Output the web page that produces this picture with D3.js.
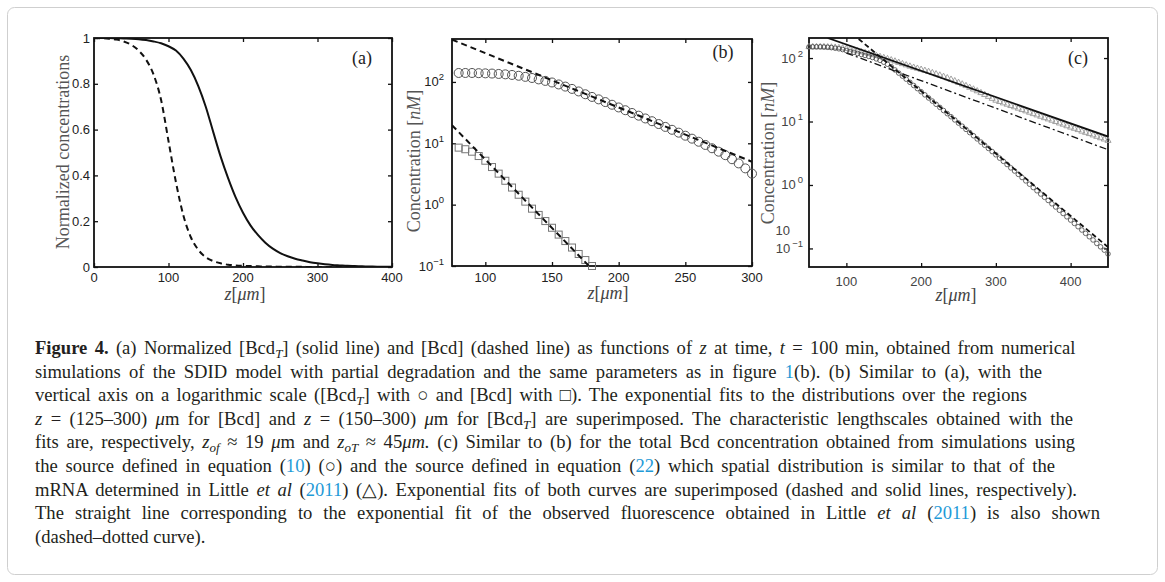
<!DOCTYPE html>
<html>
<head>
<meta charset="utf-8">
<script src="https://cdn.jsdelivr.net/npm/d3@7"></script>
<style>
  body { margin: 0; background: #fff; }
  svg { display: block; }
</style>
</head>
<body>
<svg width="1165" height="582"></svg>
<script>
// ---- panel (a): normalized profiles, z = 0..400
const zA = [0, 10, 20, 30, 40, 50, 60, 70, 80, 90, 100, 110, 120, 130, 140, 150, 160, 170, 180, 190, 200,
    210, 220, 230, 240, 250, 260, 270, 280, 290, 300, 310, 320, 330, 340, 350, 360, 370, 380, 390, 400];
const bcdTNorm = [1, 1, 1, 0.999, 0.998, 0.997, 0.995, 0.991, 0.985, 0.977, 0.964, 0.945, 0.91, 0.86, 0.79,
    0.70, 0.59, 0.482, 0.388, 0.305, 0.237, 0.182, 0.14, 0.106, 0.08, 0.061, 0.047, 0.036, 0.028, 0.021,
    0.016, 0.012, 0.009, 0.007, 0.005, 0.004, 0.003, 0.002, 0.0015, 0.001, 0.0007];
const bcdNorm = [1, 0.999, 0.997, 0.993, 0.985, 0.97, 0.945, 0.905, 0.84, 0.73, 0.55, 0.37, 0.225, 0.13,
    0.075, 0.043, 0.026, 0.016, 0.01, 0.007, 0.005, 0.004, 0.003, 0.002, 0.002, 0.001, 0.001, 0.001, 0.001,
    0, 0, 0, 0, 0, 0, 0, 0, 0, 0, 0, 0];
const xTicksA = [0, 100, 200, 300, 400];
const yTicksA = [0, 0.2, 0.4, 0.6, 0.8, 1];

// ---- panel (b): log scale, circles = [Bcd_T], squares = [Bcd]
const zB = [80, 85, 90, 95, 100, 105, 110, 115, 120, 125, 130, 135, 140, 145, 150, 155, 160, 165, 170, 175,
    180, 185, 190, 195, 200, 205, 210, 215, 220, 225, 230, 235, 240, 245, 250, 255, 260, 265, 270, 275,
    280, 285, 290, 295, 300];
const bcdTB = [140, 140, 140, 139, 138, 137, 135, 133, 130, 126, 121, 116, 110, 104, 98, 91, 84, 77, 70, 63,
    57, 52, 47, 42.5, 38.4, 34.6, 31.2, 28.2, 25.4, 22.9, 20.6, 18.5, 16.6, 14.9, 13.3, 11.9, 10.6, 9.4,
    8.3, 7.3, 6.4, 5.5, 4.7, 3.9, 3.2];
const zBsq = [80, 85, 90, 95, 100, 105, 110, 115, 120, 125, 130, 135, 140, 145, 150, 155, 160, 165, 170, 175, 180];
const bcdB = [8.5, 8.0, 7.3, 6.2, 5.2, 4.1, 3.2, 2.45, 1.9, 1.45, 1.12, 0.86, 0.68, 0.54, 0.42, 0.325,
    0.255, 0.2, 0.157, 0.125, 0.1];
const fitBcdTz = [75, 300], fitBcdTc = [490, 5.0];
const fitBcdz = [75, 180], fitBcdc = [19.7, 0.089];
const xTicksB = [100, 150, 200, 250, 300];
const logTicks = [0.1, 1, 10, 100];

// ---- panel (c): total Bcd, circles = source eq (10), triangles = source eq (22)
const zC = [50, 55, 60, 65, 70, 75, 80, 85, 90, 95, 100, 105, 110, 115, 120, 125, 130, 135, 140, 145, 150,
    155, 160, 165, 170, 175, 180, 185, 190, 195, 200, 205, 210, 215, 220, 225, 230, 235, 240, 245, 250,
    255, 260, 265, 270, 275, 280, 285, 290, 295, 300, 305, 310, 315, 320, 325, 330, 335, 340, 345, 350,
    355, 360, 365, 370, 375, 380, 385, 390, 395, 400, 405, 410, 415, 420, 425, 430, 435, 440, 445, 450];
const circC = [150, 150, 150, 150, 149, 148, 146, 143, 140, 136, 131, 127, 123, 118, 114, 110, 106, 102, 97,
    92, 86, 80, 73, 65, 58, 52, 46.5, 41.5, 37, 33, 29.5, 26.3, 23.5, 21, 18.7, 16.7, 14.9, 13.3, 11.9,
    10.6, 9.45, 8.43, 7.52, 6.7, 5.97, 5.32, 4.74, 4.23, 3.77, 3.36, 2.99, 2.65, 2.36, 2.1, 1.86, 1.66,
    1.47, 1.31, 1.16, 1.03, 0.91, 0.81, 0.72, 0.64, 0.57, 0.505, 0.45, 0.4, 0.355, 0.315, 0.28, 0.248,
    0.22, 0.195, 0.173, 0.153, 0.136, 0.12, 0.106, 0.094, 0.082];
const triC = [150, 150, 150, 150, 150, 149, 148, 147, 145, 143, 140, 137, 133, 129, 125, 121, 117, 113, 109,
    105, 101, 97, 93, 89, 85, 81, 77.5, 74, 71, 68.5, 66, 63.5, 61, 58.5, 56, 53.5, 51, 48.5, 46, 43.5,
    41, 38.7, 36.5, 34.3, 32.2, 30.2, 28.3, 26.5, 24.7, 23.0, 21.5, 20.5, 19.5, 18.6, 17.7, 16.9, 16.1,
    15.3, 14.6, 13.9, 13.2, 12.6, 12.0, 11.4, 10.9, 10.4, 9.9, 9.4, 9.0, 8.5, 8.1, 7.75, 7.4, 7.0, 6.7,
    6.4, 6.1, 5.8, 5.5, 5.25, 5.0];
const fitCircz = [100, 450], fitCircc = [290, 0.105];
const fitTriz = [75, 450], fitTric = [207, 5.8];
const fitObsz = [100, 450], fitObsc = [120, 3.6];
const xTicksC = [100, 200, 300, 400];

// ---- caption
const captionLines = [
    [["Figure 4.", "B"], ["  (a) Normalized [Bcd", ""], ["T", "SI"], ["] (solid line) and [Bcd] (dashed line) as functions of ", ""],
     ["z", "I"], [" at time, ", ""], ["t", "I"], [" = 100 min, obtained from numerical", ""]],
    [["simulations of the SDID model with partial degradation and the same parameters as in figure ", ""], ["1", "L"],
     ["(b). (b) Similar to (a), with the", ""]],
    [["vertical axis on a logarithmic scale ([Bcd", ""], ["T", "SI"], ["] with \u25CB and [Bcd] with \u25A1). The exponential fits to the distributions over the regions", ""]],
    [["z", "I"], [" = (125\u2013300) ", ""], ["\u03BC", "I"], ["m for [Bcd] and ", ""], ["z", "I"], [" = (150\u2013300) ", ""],
     ["\u03BC", "I"], ["m for [Bcd", ""], ["T", "SI"], ["] are superimposed. The characteristic lengthscales obtained with the", ""]],
    [["fits are, respectively, ", ""], ["z", "I"], ["of", "SI"], [" \u2248 19 ", ""], ["\u03BC", "I"], ["m and ", ""], ["z", "I"],
     ["oT", "SI"], [" \u2248 45", ""], ["\u03BCm.", "I"], [" (c) Similar to (b) for the total Bcd concentration obtained from simulations using", ""]],
    [["the source defined in equation (", ""], ["10", "L"], [") (\u25CB) and the source defined in equation (", ""], ["22", "L"],
     [") which spatial distribution is similar to that of the", ""]],
    [["mRNA determined in Little ", ""], ["et al", "I"], [" (", ""], ["2011", "L"],
     [") (\u25B3). Exponential fits of both curves are superimposed (dashed and solid lines, respectively).", ""]],
    [["The straight line corresponding to the exponential fit of the observed fluorescence obtained in Little ", ""],
     ["et al", "I"], [" (", ""], ["2011", "L"], [") is also shown", ""]],
    [["(dashed\u2013dotted curve).", ""]]
];
// right end of each caption line; null = leave the line at its natural width
const captionEnds = [1078, 1042, 1027, 1073, 1075, 1055, 1077, 1100, null];

const svg = d3.select("svg");
const tickFont = "'Liberation Sans', Arial, sans-serif";
const serifFont = "'Liberation Serif', 'Times New Roman', serif";

let xA = d3.scaleLinear().domain([0, 400]).range([94, 392]);
let yA = d3.scaleLinear().domain([0, 1]).range([267, 38]);
let xB = d3.scaleLinear().domain([75, 300]).range([452, 752]);
let yB = d3.scaleLog().domain([0.1, 501]).range([266, 39]);
let xC = d3.scaleLinear().domain([50, 450]).range([809, 1108]);
let yC = d3.scaleLog().domain([0.051, 207]).range([267, 38]);

const drawFrame = (id, x, y, xTicks, yTicks) => {
    const [x0, x1] = x.range();
    const [y0, y1] = y.range();
    const g = svg.append("g");
    // inward ticks on all four sides, matlab style
    g.append("g").attr("transform", `translate(0,${y0})`)
        .call(d3.axisBottom(x).tickValues(xTicks).tickSizeInner(-4).tickSizeOuter(0).tickFormat(""));
    g.append("g").attr("transform", `translate(0,${y1})`)
        .call(d3.axisTop(x).tickValues(xTicks).tickSizeInner(-4).tickSizeOuter(0).tickFormat(""));
    g.append("g").attr("transform", `translate(${x0},0)`)
        .call(d3.axisLeft(y).tickValues(yTicks).tickSizeInner(-4).tickSizeOuter(0).tickFormat(""));
    g.append("g").attr("transform", `translate(${x1},0)`)
        .call(d3.axisRight(y).tickValues(yTicks).tickSizeInner(-4).tickSizeOuter(0).tickFormat(""));
    g.selectAll(".domain").remove();
    g.selectAll(".tick line").attr("stroke", "#111").attr("stroke-width", 1.3);
    g.append("rect")
        .attr("x", x0).attr("y", y1).attr("width", x1 - x0).attr("height", y0 - y1)
        .attr("fill", "none").attr("stroke", "#111").attr("stroke-width", 1.8);

    svg.append("clipPath").attr("id", id)
        .append("rect").attr("x", x0).attr("y", y1).attr("width", x1 - x0).attr("height", y0 - y1);
};

const drawXLabels = (x, y, ticks, dy, color) => {
    const y0 = y.range()[0];
    svg.append("g").selectAll("text").data(ticks).enter().append("text")
        .attr("x", d => x(d)).attr("y", y0 + dy)
        .attr("text-anchor", "middle")
        .attr("font-family", tickFont).attr("font-size", 13).attr("fill", color)
        .text(d => d);
};

const drawLogLabels = (x, y, gap, color, supDx) => {
    const x0 = x.range()[0];
    const t = svg.append("g").selectAll("text").data(logTicks).enter().append("text")
        .attr("x", x0 - gap).attr("y", d => y(d) + 4.5)
        .attr("text-anchor", "end")
        .attr("font-family", tickFont).attr("font-size", 13).attr("fill", color);
    t.append("tspan").text("10");
    t.append("tspan").attr("dx", supDx).attr("dy", -6).attr("font-size", 9.5)
        .text(d => Math.round(Math.log10(d)) < 0 ? "\u2212" + Math.abs(Math.round(Math.log10(d))) : Math.round(Math.log10(d)));
};

const drawTitles = (yLabel, yx, yy, xx, xy, tag, tx, ty) => {
    svg.append("text")
        .attr("transform", `translate(${yx},${yy}) rotate(-90)`)
        .attr("text-anchor", "middle").attr("dy", "0.35em")
        .attr("font-family", serifFont).attr("font-size", 18).attr("fill", "#555")
        .each(function () {
            const t = d3.select(this);
            yLabel.forEach(([s, it]) => t.append("tspan").attr("font-style", it ? "italic" : "normal").text(s));
        });
    const xt = svg.append("text")
        .attr("x", xx).attr("y", xy).attr("text-anchor", "middle").attr("dy", "0.35em")
        .attr("font-family", serifFont).attr("font-size", 18).attr("fill", "#444");
    xt.append("tspan").attr("font-style", "italic").text("z");
    xt.append("tspan").text("[");
    xt.append("tspan").attr("font-style", "italic").text("\u03BCm");
    xt.append("tspan").text("]");
    svg.append("text")
        .attr("x", tx).attr("y", ty).attr("text-anchor", "middle").attr("dy", "0.35em")
        .attr("font-family", serifFont).attr("font-size", 18).attr("fill", "#222")
        .text(tag);
};

const drawLine = (clip, x, y, zs, vs, width, dash, curve) => {
    const pts = zs.map((z, i) => [z, vs[i]]);
    svg.append("path")
        .datum(pts)
        .attr("clip-path", `url(#${clip})`)
        .attr("fill", "none").attr("stroke", "#111").attr("stroke-width", width)
        .attr("stroke-dasharray", dash)
        .attr("d", d3.line().x(d => x(d[0])).y(d => y(d[1])).curve(curve || d3.curveLinear));
};

const drawPanelA = () => {
    drawFrame("clipA", xA, yA, xTicksA, yTicksA);
    drawLine("clipA", xA, yA, zA, bcdNorm, 2, "6,4", d3.curveMonotoneX);
    drawLine("clipA", xA, yA, zA, bcdTNorm, 2, null, d3.curveMonotoneX);
    drawXLabels(xA, yA, xTicksA, 15, "#222");
    svg.append("g").selectAll("text").data(yTicksA).enter().append("text")
        .attr("x", 90).attr("y", d => yA(d) + 4.5)
        .attr("text-anchor", "end")
        .attr("font-family", tickFont).attr("font-size", 13).attr("fill", "#222")
        .text(d => d);
    drawTitles([["Normalized concentrations", false]], 63, 152, 245, 294, "(a)", 362, 58);
};

const drawPanelB = () => {
    drawFrame("clipB", xB, yB, xTicksB, logTicks);
    svg.append("g").selectAll("circle").data(zB).enter().append("circle")
        .attr("cx", d => xB(d)).attr("cy", (d, i) => yB(bcdTB[i])).attr("r", 4.5)
        .attr("fill", "none").attr("stroke", "#555").attr("stroke-width", 1);
    svg.append("g").selectAll("rect").data(zBsq).enter().append("rect")
        .attr("x", d => xB(d) - 3.5).attr("y", (d, i) => yB(bcdB[i]) - 3.5)
        .attr("width", 7).attr("height", 7)
        .attr("fill", "none").attr("stroke", "#777").attr("stroke-width", 1);
    drawLine("clipB", xB, yB, fitBcdTz, fitBcdTc, 2, "6,4");
    drawLine("clipB", xB, yB, fitBcdz, fitBcdc, 2, "6,4");
    drawXLabels(xB, yB, xTicksB, 16, "#222");
    drawLogLabels(xB, yB, 8, "#222", 0);
    drawTitles([["Concentration ", false], ["[", false], ["nM", true], ["]", false]], 414, 161, 608, 293, "(b)", 723, 52);
};

const drawPanelC = () => {
    drawFrame("clipC", xC, yC, xTicksC, logTicks);
    const tri = d3.symbol().type(d3.symbolTriangle).size(16);
    svg.append("g").selectAll("path").data(zC).enter().append("path")
        .attr("transform", (d, i) => `translate(${xC(d)},${yC(triC[i])})`)
        .attr("d", tri)
        .attr("fill", "none").attr("stroke", "#999").attr("stroke-width", 0.9);
    svg.append("g").selectAll("circle").data(zC).enter().append("circle")
        .attr("cx", d => xC(d)).attr("cy", (d, i) => yC(circC[i])).attr("r", 2.3)
        .attr("fill", "none").attr("stroke", "#444").attr("stroke-width", 0.8);
    drawLine("clipC", xC, yC, fitTriz, fitTric, 1.8, null);
    drawLine("clipC", xC, yC, fitCircz, fitCircc, 1.8, "5,3");
    drawLine("clipC", xC, yC, fitObsz, fitObsc, 1.3, "7,3,2,3");
    drawXLabels(xC, yC, xTicksC, 19, "#444");
    drawLogLabels(xC, yC, 6, "#444", 2);
    // stray label left over in the original figure
    svg.append("text").attr("x", 790).attr("y", 235).attr("text-anchor", "end")
        .attr("font-family", tickFont).attr("font-size", 13).attr("fill", "#444").text("10");
    drawTitles([["Concentration ", false], ["[", false], ["nM", true], ["]", false]], 768, 153, 956, 295, "(c)", 1078, 58);
};

const drawCaption = () => {
    captionLines.forEach((segs, i) => {
        const t = svg.append("text")
            .attr("x", 35).attr("y", 354 + i * 23.6)
            .attr("font-family", serifFont).attr("font-size", 18.6).attr("fill", "#231f20");
        let shifted = false;
        segs.forEach(([s, st]) => {
            const ts = t.append("tspan").text(s);
            if (st.includes("B")) ts.attr("font-weight", "bold");
            if (st.includes("I")) ts.attr("font-style", "italic");
            if (st.includes("L")) ts.attr("fill", "#1f9ad7");
            if (st.includes("S")) {
                ts.attr("dy", 4).attr("font-size", 13);
                shifted = true;
            } else if (shifted) {
                ts.attr("dy", -4);
                shifted = false;
            }
        });
        // stretch the word gaps so each line ends where it does in the original
        if (captionEnds[i] === null) return;
        const full = segs.map(s => s[0]).join("");
        const spaces = (full.match(/ /g) || []).length;
        const natural = t.node().getComputedTextLength();
        if (spaces > 0) t.attr("word-spacing", (captionEnds[i] - 35 - natural) / spaces);
    });
};

svg.append("rect")
    .attr("x", 7.5).attr("y", 7.5).attr("width", 1150).attr("height", 567).attr("rx", 7)
    .attr("fill", "none").attr("stroke", "#cfcfcf").attr("stroke-width", 1);

drawPanelA();
drawPanelB();
drawPanelC();
drawCaption();
</script>
</body>
</html>
